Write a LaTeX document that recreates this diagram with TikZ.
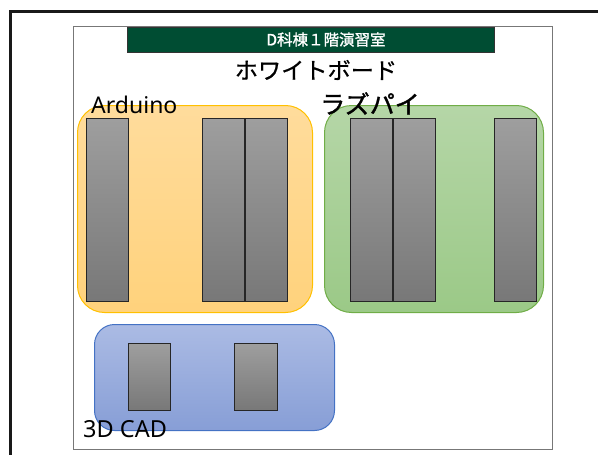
\documentclass[tikz,border=0pt]{standalone}
\usepackage{fontspec}
\setmainfont{Noto Sans}
\newfontfamily\jp{Noto Sans CJK JP}[FakeBold=0.6]
\newfontfamily\jpm{Noto Sans CJK JP}[FakeBold=1.4]
\definecolor{banner}{HTML}{004D33}
\definecolor{orgtop}{HTML}{FFDC9C}
\definecolor{orgbot}{HTML}{FFD27C}
\definecolor{orgline}{HTML}{FFC000}
\definecolor{grntop}{HTML}{B5D6A7}
\definecolor{grnbot}{HTML}{9BC987}
\definecolor{grnline}{HTML}{70AD47}
\definecolor{blutop}{HTML}{ABBBE4}
\definecolor{blubot}{HTML}{879ED6}
\definecolor{bluline}{HTML}{4472C4}
\definecolor{frame}{HTML}{777777}
\tikzset{
  zone/.style={rectangle, anchor=north west, inner sep=0pt, line width=1pt},
  desk/.style={rectangle, anchor=north west, inner sep=0pt, draw=black!85, line width=1.1pt,
    top color=black!38, bottom color=black!53},
  lbl/.style={inner sep=0pt, text=black}
}
\begin{document}
\begin{tikzpicture}[x=1pt,y=-1pt]
\useasboundingbox (0,0) rectangle (598,455);
% outer frame (continues beyond the picture)
\coordinate (otl) at (10.5,11.5);
\coordinate (otr) at (598,11.5);
\coordinate (obl) at (10.5,455);
\draw[line width=3pt, black!90] (obl) -- (otl) -- (otr);
% inner frame
\node[rectangle, anchor=north west, inner sep=0pt, draw=frame, line width=1.3pt,
  minimum width=479pt, minimum height=423.5pt] (room) at (72.5,25.5) {};
% banner
\node[rectangle, anchor=north west, inner sep=0pt, fill=banner, draw=black!80, line width=0.8pt,
  minimum width=367pt, minimum height=25pt] (ban) at (127,27) {};
\node[lbl, text=white, font=\jpm\fontsize{15.5}{17}\selectfont] (bantxt) at (326,39.5) {D科棟１階演習室};
% whiteboard
\node[lbl, font=\jp\fontsize{23.2}{26}\selectfont] (wb) at (316,70) {ホワイトボード};
% Arduino zone
\node[zone, draw=orgline, top color=orgtop, bottom color=orgbot, rounded corners=27pt,
  minimum width=235pt, minimum height=207pt] (ard) at (77,105) {};
\node[desk, minimum width=42pt, minimum height=183pt] (a1) at (86,118) {};
\node[desk, minimum width=42pt, minimum height=183pt] (a2) at (202,118) {};
\node[desk, minimum width=42pt, minimum height=183pt] (a3) at (245,118) {};
\node[lbl, anchor=base west, font=\fontsize{23}{26}\selectfont] (ardtxt) at (91,113) {Arduino};
% Raspberry Pi zone
\node[zone, draw=grnline, top color=grntop, bottom color=grnbot, rounded corners=27pt,
  minimum width=219pt, minimum height=207pt] (rpi) at (324,105) {};
\node[desk, minimum width=42pt, minimum height=183pt] (r1) at (350,118) {};
\node[desk, minimum width=42pt, minimum height=183pt] (r2) at (393,118) {};
\node[desk, minimum width=42pt, minimum height=183pt] (r3) at (494,118) {};
\node[lbl, font=\jpm\fontsize{25}{28}\selectfont] (rpitxt) at (370,103.5) {ラズパイ};
% 3D CAD zone
\node[zone, draw=bluline, top color=blutop, bottom color=blubot, rounded corners=20pt,
  minimum width=240pt, minimum height=106pt] (cad) at (94,324) {};
\node[desk, minimum width=42pt, minimum height=67pt] (c1) at (128,343) {};
\node[desk, minimum width=43pt, minimum height=67pt] (c2) at (234,343) {};
\node[lbl, anchor=base west, font=\fontsize{23.5}{26}\selectfont] (cadtxt) at (83,437.5) {3D CAD};
\end{tikzpicture}
\end{document}
